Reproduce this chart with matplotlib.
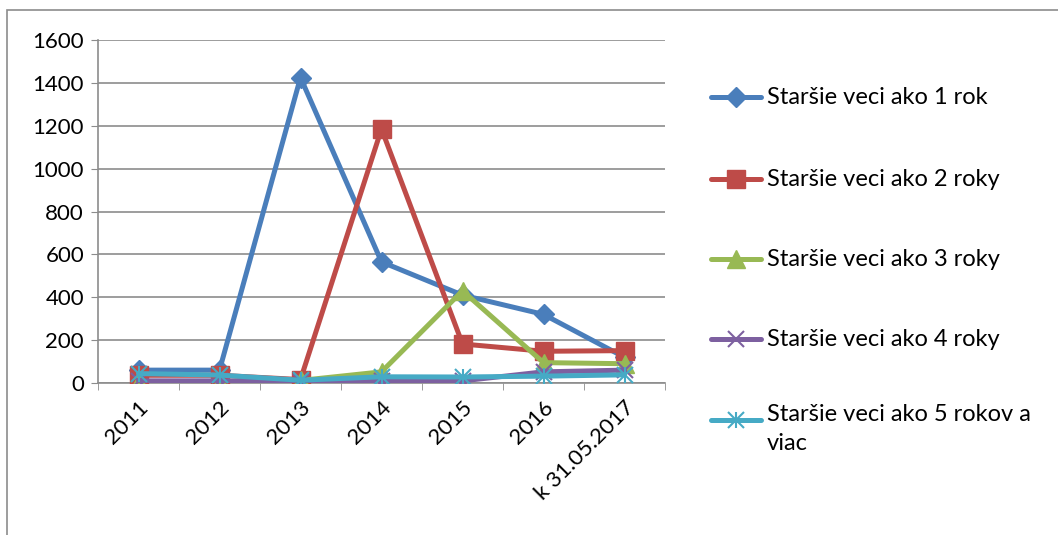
import matplotlib
matplotlib.use("Agg")
import matplotlib.pyplot as plt
from matplotlib.lines import Line2D
from matplotlib.patches import Rectangle

categories = ["2011", "2012", "2013", "2014", "2015", "2016", "k 31.05.2017"]
s1 = [60, 60, 1425, 565, 410, 320, 120]
s2 = [36, 36, 16, 1185, 182, 148, 151]
s3 = [3, 5, 12, 52, 430, 95, 90]
s4 = [10, 10, 5, 10, 10, 52, 60]
s5 = [44, 37, 13, 29, 28, 32, 38]
labels = ["Staršie veci ako 1 rok", "Staršie veci ako 2 roky", "Staršie veci ako 3 roky",
          "Staršie veci ako 4 roky", "Staršie veci ako 5 rokov a\nviac"]
yticks = [0, 200, 400, 600, 800, 1000, 1200, 1400, 1600]

plt.rcParams['font.family'] = ['Lato', 'DejaVu Sans']
FS_T = 16
FS_L = 17

W, H = 1058, 535
fig = plt.figure(figsize=(W / 100, H / 100), dpi=100)
fig.add_artist(Rectangle((7 / W, -0.1), 1.2, 1 - 10 / H + 0.1, transform=fig.transFigure,
                         fill=False, edgecolor="#8c8c8c", linewidth=1.2))

ax = fig.add_axes([98 / W, 1 - 383 / H, (665 - 98) / W, (383 - 40) / H])
x = list(range(len(categories)))

LW = 3.6
styles = [
    dict(color="#4A7EBB", marker="D", ms=10),
    dict(color="#BE4B48", marker="s", ms=13),
    dict(color="#98B954", marker="^", ms=13),
    dict(color="#7D60A0", marker="x", ms=11),
    dict(color="#46AAC5", marker="x", ms=11),
]
series = [s1, s2, s3, s4, s5]
for s, st in zip(series, styles):
    kw = dict(color=st["color"], lw=LW, marker=st["marker"], ms=st["ms"],
              mec=st["color"], mfc=st["color"], solid_capstyle="round", zorder=3)
    if st["marker"] == "x":
        kw["mew"] = 1.5
    ax.plot(x, s, **kw)
# asterisk for series 5: add vertical stroke
ax.plot(x, s5, ls="none", marker="|", ms=12, mew=1.5, color=styles[4]["color"], zorder=4)

ax.set_xlim(-0.5, len(categories) - 0.5)
ax.set_ylim(0, 1600)
ax.set_yticks(yticks)
ax.set_yticklabels([str(v) for v in yticks], fontsize=FS_T)
ax.set_xticks(x)
ax.set_xticklabels(categories, rotation=45, ha="right", va="top", fontsize=FS_T,
                   rotation_mode="anchor")
ax.tick_params(axis="x", length=0, pad=10)
ax.tick_params(axis="y", length=5, color="#8c8c8c", pad=5)
ax.set_xticks([i - 0.5 for i in range(len(categories) + 1)], minor=True)
ax.tick_params(axis="x", which="minor", length=5, color="#8c8c8c", direction="out")
ax.grid(axis="y", color="#8c8c8c", lw=1.2)
ax.set_axisbelow(True)
for sp in ["top", "right"]:
    ax.spines[sp].set_visible(False)
for sp in ["left", "bottom"]:
    ax.spines[sp].set_color("#8c8c8c")
    ax.spines[sp].set_linewidth(1.2)

# legend, drawn manually
leg_y = [97, 179, 259, 339, 420]
for lab, st, yy in zip(labels, styles, leg_y):
    yf = 1 - yy / H
    fig.add_artist(Line2D([711 / W, 761 / W], [yf, yf], transform=fig.transFigure,
                          color=st["color"], lw=LW, solid_capstyle="round"))
    kw = dict(color=st["color"], marker=st["marker"], ms=st["ms"], mec=st["color"], mfc=st["color"])
    if st["marker"] == "x":
        kw["mew"] = 1.5
    fig.add_artist(Line2D([736 / W], [yf], transform=fig.transFigure, ls="none", **kw))
    if lab is labels[4]:
        fig.add_artist(Line2D([736 / W], [yf], transform=fig.transFigure, ls="none",
                              marker="|", ms=12, mew=1.5, color=st["color"]))
    if "\n" in lab:
        fig.text(767 / W, 1 - (yy - 16) / H, lab, fontsize=FS_L, va="top", ha="left",
                 linespacing=1.5)
    else:
        fig.text(767 / W, yf, lab, fontsize=FS_L, va="center", ha="left")

fig.savefig("out.png", dpi=100)
